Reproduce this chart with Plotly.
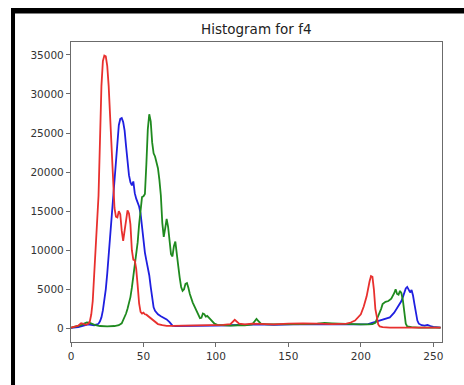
import plotly.graph_objects as go

# ---- data (pixel-intensity histogram, bins 0..255) ----
red_x = [0, 3, 5, 7, 8, 10, 12, 13, 14, 15, 16, 17, 18, 19, 20, 21, 22, 23, 24, 25, 26, 27, 28, 29,
         30, 31, 32, 33, 34, 35, 36, 37, 38, 39, 40, 41, 42, 43, 44, 45, 46, 47, 48, 49, 50, 51, 52,
         53, 54, 56, 58, 60, 63, 66, 70, 80, 90, 100, 105, 110, 113, 116, 120, 125, 130, 140, 150,
         160, 170, 180, 190, 193, 196, 198, 200, 202, 204, 206, 207, 208, 209, 210, 211, 212, 213,
         215, 220, 230, 240, 250, 255]
red_y = [100, 200, 350, 650, 620, 450, 600, 900, 1800, 3500, 6500, 10000, 13500, 17000, 24000,
         31000, 34200, 34900, 34800, 33600, 31000, 27000, 22500, 17500,
         15400, 14300, 14200, 15000, 14600, 12500, 11200, 12500, 14200, 15100, 14700, 13300, 10000,
         8800, 8700, 7600, 5500, 3200, 2100, 1900, 2000, 1800, 1750,
         1600, 1400, 1100, 800, 550, 400, 320, 320, 330, 380, 400, 450, 550, 1100, 600, 500, 600, 550,
         500, 600, 650, 600, 550, 600, 750, 1000, 1400, 1800, 2800, 4100, 6000, 6700, 6600, 5000,
         2500, 1200, 500, 250, 150, 100, 100, 100, 100, 100]

blue_x = [0, 5, 10, 12, 14, 16, 18, 19, 20, 21, 22, 23, 24, 25, 26, 27, 28, 29, 30, 31, 32, 33, 34,
          35, 36, 37, 38, 39, 40, 41, 42, 43, 44, 45, 46, 47, 48, 49, 50, 51, 52, 53, 54, 55, 56, 57,
          58, 59, 60, 62, 64, 66, 68, 70, 72, 80, 90, 100, 110, 120, 130, 140, 150, 160, 170, 180,
          190, 200, 205, 208, 212, 216, 220, 223, 226, 228, 229, 230, 231, 232, 233, 234, 235, 236,
          237, 238, 239, 240, 242, 244, 246, 248, 250, 255]
blue_y = [50, 150, 400, 500, 450, 400, 500, 600, 900, 1400, 2300, 3500, 5000, 7000, 9500, 12000,
          14300, 16300, 19000, 22000, 24500, 26000, 26800, 26900, 26400, 25300, 23300, 21000, 19600,
          18700, 18300, 18800, 17300, 16600, 16100, 15600, 14700, 12900, 11000, 9700, 8700, 7800,
          6800, 5300, 4000, 2700, 2250, 2000, 1800, 1550, 1350, 1150, 800, 350, 300, 300, 300, 350,
          400, 450, 500, 450, 500, 550, 500, 500, 450, 500, 550, 700, 900, 1100, 1400, 2000, 2800,
          3500, 4000, 4600, 5100, 5300, 5000, 4600, 4900, 4200, 3100, 1800, 1000, 600, 400, 350,
          450, 300, 200, 100]

green_x = [0, 3, 5, 7, 9, 11, 13, 15, 17, 20, 25, 30, 33, 35, 36, 37, 38, 39, 40, 41, 42, 43, 44,
           45, 46, 47, 48, 49, 50, 51, 52, 53, 54, 55, 56, 57, 58, 59, 60, 61, 62, 63, 64, 65, 66,
           67, 68, 69, 70, 71, 72, 73, 74, 75, 76, 77, 78, 79, 80, 81, 82, 84, 86, 87, 88, 89, 90,
           91, 92, 93, 94, 95, 97, 99, 101, 105, 110, 115, 120, 125, 127, 128, 129, 131, 135, 140,
           150, 160, 170, 175, 180, 190, 200, 205, 208, 210, 212, 214, 215, 217, 219, 221, 223, 224,
           225, 226, 227, 228, 229, 230, 231, 232, 235, 240, 250, 255]
green_y = [100, 200, 300, 400, 600, 750, 700, 500, 400, 300, 250, 300, 400, 650, 1000, 1400, 1900,
           2500, 3200, 4000, 5200, 6500, 8000, 9500, 11000, 13300, 15500, 16800, 16900, 17200,
           21000, 25500, 27400, 26500, 23800, 22400, 22000, 21400, 20500, 19000, 17000, 13500,
           11700, 12800, 14000, 13000, 11000, 9500, 9200, 10500, 11100, 9800, 8000, 6500, 5300,
           4800, 5000, 5700, 5800, 5200, 4400, 3300, 2500, 2100, 1600, 1300, 1350, 1900, 1800, 1500,
           1600, 1400, 950, 600, 450, 400, 350, 400, 400, 500, 900, 1200, 1000, 600, 500, 500, 550,
           550, 600, 700, 650, 550, 500, 500, 550, 700, 1500, 2500, 3100, 3400, 3500, 3800, 4500,
           5000, 4400, 4300, 4800, 4500, 3600, 1800, 600, 250, 150, 100, 100, 100]

x_ticks = [0, 50, 100, 150, 200, 250]
y_ticks = [0, 5000, 10000, 15000, 20000, 25000, 30000, 35000]
title_text = "Histogram for f4"

fig = go.Figure()
for xs, ys, col in [(blue_x, blue_y, "#1f1fe0"), (green_x, green_y, "#1f8a1f"), (red_x, red_y, "#e8302e")]:
    fig.add_trace(go.Scatter(x=xs, y=ys, mode="lines",
                             line=dict(color=col, width=1.8), showlegend=False,
                             hoverinfo="skip"))

axis_common = dict(showgrid=False, zeroline=False, showline=True, mirror=True,
                   linecolor="#6b6b6b", linewidth=1.2, ticks="outside", ticklen=4,
                   tickcolor="#6b6b6b", tickwidth=1,
                   tickfont=dict(family="DejaVu Sans", size=10.5, color="#333333"))

fig.update_layout(
    width=464, height=385,
    margin=dict(l=71, r=22, t=42, b=43),
    paper_bgcolor="white", plot_bgcolor="white",
    xaxis=dict(range=[0, 256], tickvals=x_ticks, tickformat="d", **axis_common),
    yaxis=dict(range=[-1745, 36645], tickvals=y_ticks, tickformat="d", **axis_common),
    annotations=[dict(text=title_text, x=0.5, y=1.045, xref="paper", yref="paper",
                      xanchor="center", yanchor="middle", showarrow=False,
                      font=dict(family="DejaVu Sans", size=13.5, color="#222222"))],
    shapes=[
        dict(type="rect", xref="paper", yref="paper", x0=-0.1617, x1=1.06, y0=1.095, y1=1.1133,
             fillcolor="black", line=dict(width=0)),
        dict(type="rect", xref="paper", yref="paper", x0=-0.1617, x1=-0.1509, y0=-0.15, y1=1.1133,
             fillcolor="black", line=dict(width=0)),
    ],
)

fig.write_html("out.html", config={"displayModeBar": False},
               post_script="document.body.style.margin='0';document.body.style.overflow='hidden';")
